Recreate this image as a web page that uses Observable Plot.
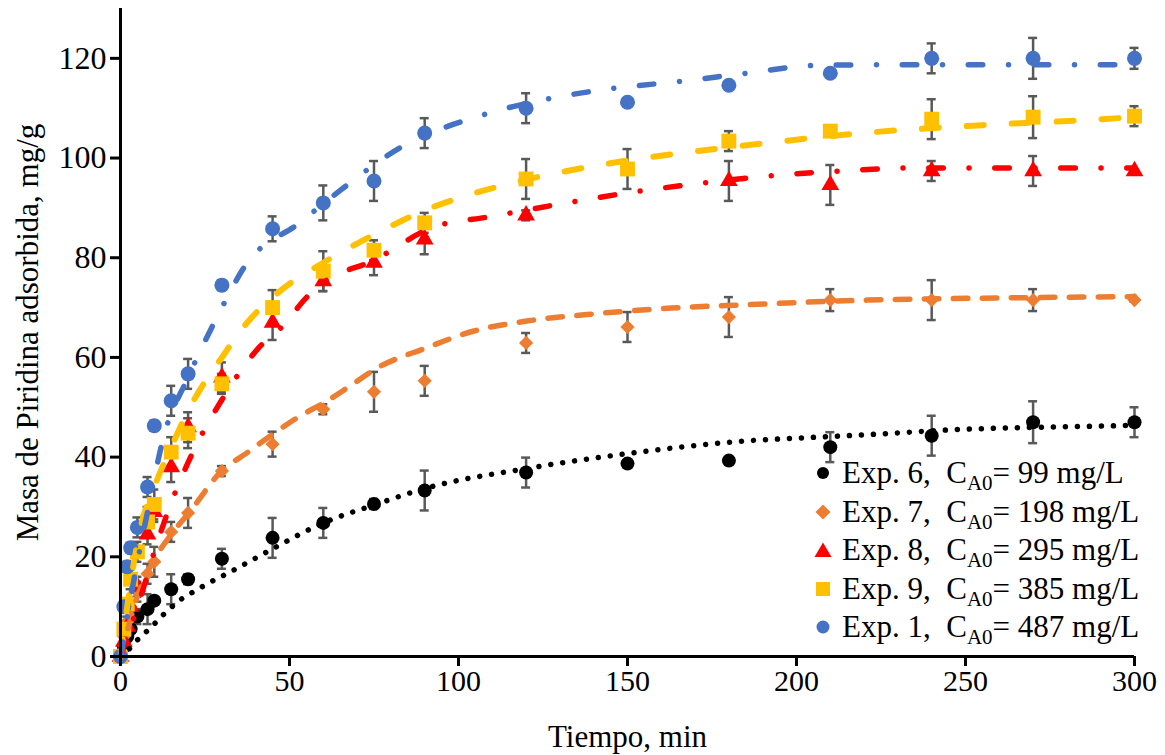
<!DOCTYPE html>
<html>
<head>
<meta charset="utf-8">
<script src="https://cdn.jsdelivr.net/npm/d3@7"></script>
<script src="https://cdn.jsdelivr.net/npm/@observablehq/plot@0.6"></script>
<style>
  html, body { margin: 0; padding: 0; background: #fff; }
  #wrap { position: relative; width: 1165px; height: 755px; font-family: "Liberation Serif", "Times New Roman", serif; }
  #legend { position: absolute; left: 808px; top: 454px; font-size: 31px; color: #000; }
  .row { display: flex; align-items: center; height: 38.5px; white-space: pre; }
  .mk { width: 30px; height: 38.5px; display: flex; align-items: center; justify-content: center; margin-right: 4px; }
  .sub { font-size: 21px; position: relative; top: 7px; }
</style>
</head>
<body>
<div id="wrap"><div id="legend"></div></div>
<script>
// ---- data ----
const times = [0, 1, 2, 3, 5, 8, 10, 15, 20, 30, 45, 60, 75, 90, 120, 150, 180, 210, 240, 270, 300];

const exp6Vals = [0, 2, 4, 5.5, 8, 9.5, 11.2, 13.5, 15.5, 19.6, 23.8, 26.8, 30.6, 33.3, 36.9, 38.7, 39.3, 42, 44.3, 47, 47];
const exp6Errs = [0, 1, 1, 1, 1.5, 3, 0.5, 3, 1, 2, 4, 3, 1, 4, 3, 0.3, 0.3, 3, 4, 4.2, 3];

const exp7Vals = [0, 4, 7, 10, 13, 16.6, 19, 25, 28.8, 37.2, 42.6, 49.6, 53.1, 55.3, 62.9, 66.1, 68.1, 71.5, 71.5, 71.5, 71.5];
const exp7Errs = [0, 1, 1, 1, 2, 2, 3, 2, 3, 1, 2.5, 1, 4, 3, 2, 3, 4, 2.2, 4, 2.2, 0.3];

const exp8Vals = [0, 3, 6, 10, 14, 24.5, 29, 38, 46, 56, 67, 75.3, 79, 83.7, 88.5, null, 95.4, 94.6, 97.4, 97.4, 97.4];
const exp8Errs = [0, 1, 1, 1, 2, 2, 2, 3, 3, 3, 3.5, 2, 2.5, 3, 1, 0, 4, 4, 2, 3, 0.3];

const exp9Vals = [0, 5.5, 10.5, 15.5, 21, 27, 30.5, 41, 44.8, 54.7, 70, 77.3, 81.5, 87, 95.8, 97.8, 103.4, 105.4, 107.8, 108.2, 108.4];
const exp9Errs = [0, 1, 1, 2, 2, 3, 3, 3, 3, 2, 3.5, 4, 2, 2, 4, 4, 2, 0.3, 4, 4.2, 2];

const exp1Vals = [0, 10, 18, 21.8, 25.9, 34, 46.3, 51.3, 56.7, 74.5, 85.8, 91, 95.4, 105, 110, 111.2, 114.6, 117, 120, 120, 120];
const exp1Errs = [0, 1, 1, 1, 2, 2, 1, 3, 3, 1, 2.5, 3.5, 4, 3, 3, 0.3, 0.3, 0.3, 3, 4.1, 2.1];

// fitted model curves
const fit6T = [0, 3, 5.4, 8, 10.4, 13.3, 16.3, 18.6, 22.2, 25.7, 32, 38.5, 45, 60, 75, 90, 120, 150, 186, 206, 226, 246, 265, 295, 300];
const fit6V = [0, 1.8, 3.6, 5.2, 6.8, 8.8, 10.6, 11.8, 13.2, 14.6, 16.8, 19.2, 21.6, 26.8, 30.4, 33.7, 37.7, 40.7, 43.3, 44, 44.7, 45.5, 45.9, 46.3, 46.4];

const fit7T = [0, 2, 4, 7, 10, 15, 20.7, 29.6, 37.5, 44.4, 52.3, 61.2, 68, 76, 90, 104.6, 121.3, 138, 163, 186, 221, 246, 300];
const fit7V = [0, 5, 10, 15.5, 19.5, 24.5, 29.2, 37, 40.9, 44.3, 47.9, 51.3, 54.3, 57.9, 61.8, 65.3, 67.4, 68.6, 69.9, 70.6, 71.5, 71.8, 72.2];

const fit8T = [0, 6, 10, 14, 22, 30, 41, 48, 55, 60, 75, 92, 110, 132, 150, 170, 195, 213, 234, 300];
const fit8V = [0, 12, 21, 29, 41.8, 51.5, 62, 66.3, 72, 75, 79.5, 86, 88.3, 91, 93, 94.8, 96.6, 97.4, 98, 98];

const fit9T = [0, 2, 4, 6, 10, 15, 21.6, 30, 37.5, 47, 60, 77, 90.7, 101.6, 116, 140, 166, 191, 216, 255, 285, 300];
const fit9V = [0, 10, 19, 26, 34, 42, 51.3, 60, 67, 73.2, 79, 85.3, 89.7, 92.3, 95, 98.4, 101, 103, 104.8, 106.6, 107.6, 108.2];

const fit1T = [0, 2, 5, 8, 12.7, 20, 28.5, 37, 53, 65, 83, 106, 126, 146, 166, 185, 206, 226, 260, 300];
const fit1V = [0, 8, 19, 29, 43.9, 56, 68, 78.5, 87, 93.5, 102.2, 108.4, 111.8, 114, 115.4, 117, 118.6, 118.7, 118.7, 118.7];

const seriesNames = ["Exp. 6", "Exp. 7", "Exp. 8", "Exp. 9", "Exp. 1"];
const concentrations = ["99", "198", "295", "385", "487"];
const xTicks = [0, 50, 100, 150, 200, 250, 300];
const yTicks = [0, 20, 40, 60, 80, 100, 120];

// ---- styling ----
const series = [
  {vals: exp6Vals, errs: exp6Errs, fitT: fit6T, fitV: fit6V, color: "#000000", symbol: "circle", r: 7, dash: "0.01 12", width: 5.5},
  {vals: exp7Vals, errs: exp7Errs, fitT: fit7T, fitV: fit7V, color: "#ED7D31", symbol: "diamond2", r: 6.4, dash: "14.5 14.5", width: 5.5},
  {vals: exp8Vals, errs: exp8Errs, fitT: fit8T, fitV: fit8V, color: "#FF0000", symbol: "triangle", r: 6.6, dash: "14.5 25.75 0.01 25.75", width: 5.5},
  {vals: exp9Vals, errs: exp9Errs, fitT: fit9T, fitV: fit9V, color: "#FFC000", symbol: "square", r: 8.4, dash: "17 28", width: 6},
  {vals: exp1Vals, errs: exp1Errs, fitT: fit1T, fitV: fit1V, color: "#4472C4", symbol: "circle", r: 7.5, dash: "14.5 25.75 0.01 25.75", width: 5.5}
];

const pts = series.map(s => times.map((t, i) => ({t, v: s.vals[i], e: s.errs[i]})).filter(d => d.v != null));
const fits = series.map(s => s.fitT.map((t, i) => ({t, v: s.fitV[i]})));
const allPts = pts.flat().filter(d => d.e > 0);

const errStyle = {stroke: "#595959", strokeWidth: 2.5};

const marks = [
  Plot.ruleX(allPts, {x: "t", y1: d => d.v - d.e, y2: d => d.v + d.e, ...errStyle}),
  Plot.ruleY(allPts, {y: d => d.v + d.e, x1: "t", x2: "t", insetLeft: -4.5, insetRight: -4.5, ...errStyle}),
  Plot.ruleY(allPts, {y: d => d.v - d.e, x1: "t", x2: "t", insetLeft: -4.5, insetRight: -4.5, ...errStyle}),
  ...series.map((s, k) => Plot.dot(pts[k], {x: "t", y: "v", symbol: () => s.symbol, fill: s.color, stroke: "none", r: s.r})),
  ...series.map((s, k) => Plot.line(fits[k], {x: "t", y: "v", curve: "monotone-x", stroke: s.color, strokeWidth: s.width, strokeDasharray: s.dash, strokeLinecap: "round", strokeLinejoin: "round"})),
  Plot.ruleY([0], {stroke: "#000", strokeWidth: 3}),
  Plot.ruleX([0], {stroke: "#000", strokeWidth: 3}),
  Plot.axisX({ticks: xTicks, tickSize: 10, tickPadding: 3, strokeWidth: 3, label: null, fontSize: 30, tickFormat: d => String(d)}),
  Plot.axisY({ticks: yTicks, tickSize: 10, tickPadding: 4, strokeWidth: 3, label: null, fontSize: 32, tickFormat: d => String(d)}),
  Plot.text(["Tiempo, min"], {frameAnchor: "bottom", dy: 81, lineAnchor: "middle", fontSize: 31}),
  Plot.text(["Masa de Piridina adsorbida, mg/g"], {frameAnchor: "left", dx: -92, rotate: -90, lineAnchor: "middle", textAnchor: "middle", fontSize: 31})
];

const chart = Plot.plot({
  width: 1165,
  height: 755,
  marginLeft: 120,
  marginRight: 31,
  marginTop: 8,
  marginBottom: 99,
  x: {domain: [0, 300], axis: null},
  y: {domain: [0, 130], axis: null},
  symbol: {type: "identity"},
  style: {fontFamily: "'Liberation Serif', 'Times New Roman', serif", fontSize: "30px", color: "#000", background: "#fff", overflow: "visible"},
  marks
});
document.getElementById("wrap").prepend(chart);

// ---- legend (HTML) ----
const legendShapes = [
  '<circle cx="10" cy="10" r="6" fill="#000000"/>',
  '<polygon points="10,2.5 17.5,10 10,17.5 2.5,10" fill="#ED7D31"/>',
  '<polygon points="10,2.5 18.5,17 1.5,17" fill="#FF0000"/>',
  '<rect x="3" y="3" width="14" height="14" fill="#FFC000"/>',
  '<circle cx="10" cy="10" r="6.5" fill="#4472C4"/>'
];
const legend = document.getElementById("legend");
seriesNames.forEach((name, i) => {
  const row = document.createElement("div");
  row.className = "row";
  row.innerHTML = `<span class="mk"><svg width="20" height="20" viewBox="0 0 20 20">${legendShapes[i]}</svg></span>` +
    `<span>${name},  C<span class="sub">A0</span>= ${concentrations[i]} mg/L</span>`;
  legend.appendChild(row);
});
</script>
</body>
</html>
